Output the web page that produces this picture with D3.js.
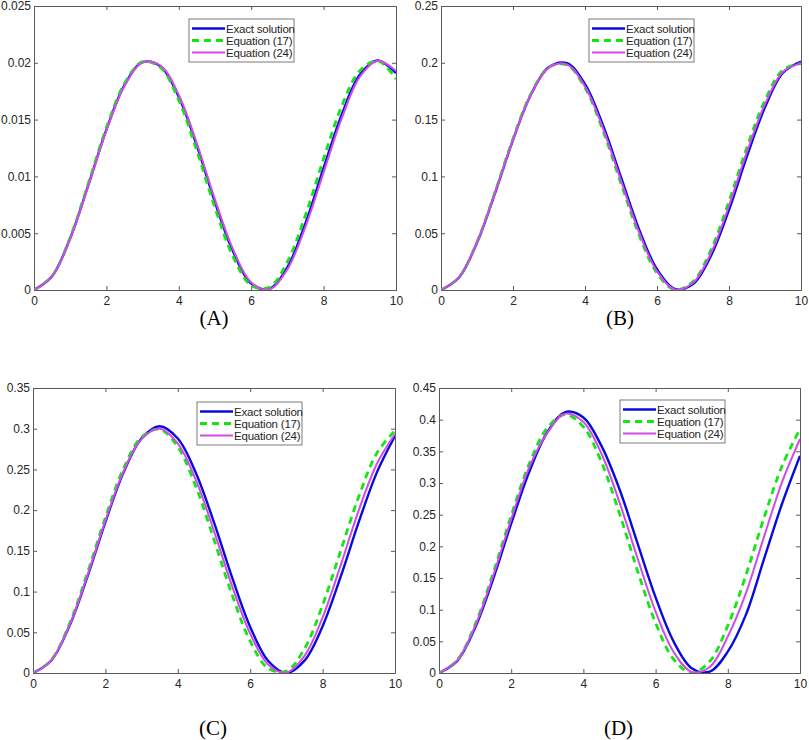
<!DOCTYPE html>
<html>
<head>
<meta charset="utf-8">
<script src="https://cdn.jsdelivr.net/npm/d3@7/dist/d3.min.js"></script>
<style>
  body { margin: 0; background: #fff; }
  svg { display: block; }
  .tick-label { font-family: "Liberation Sans", Arial, sans-serif; font-size: 12px; fill: #262626; }
  .legend-text { font-family: "Liberation Sans", Arial, sans-serif; font-size: 11.5px; fill: #262626; letter-spacing: -0.2px; }
  .panel-label { font-family: "Liberation Serif", "Times New Roman", serif; font-size: 21px; fill: #000; }
</style>
</head>
<body>
<svg id="chart" width="809" height="740"></svg>
<script>
// sample points along t, every 0.5
var xValues = [0, 0.5, 1, 1.5, 2, 2.5, 3, 3.5, 4, 4.5, 5, 5.5, 6, 6.5, 7, 7.5, 8, 8.5, 9, 9.5, 10]

var seriesNames = ['Exact solution', 'Equation (17)', 'Equation (24)']

// (A)
var exactA = [0, 0.00121, 0.00456, 0.00923, 0.01412, 0.01804, 0.02005, 0.01968, 0.01699, 0.01269, 0.00772,
              0.00338, 0.00057, 0.00010, 0.00201, 0.00589, 0.01074, 0.01544, 0.01894, 0.02020, 0.01908]
var eq17A  = [0, 0.00124, 0.00464, 0.00939, 0.01430, 0.01819, 0.02010, 0.01956, 0.01670, 0.01223, 0.00723,
              0.00294, 0.00040, 0.00024, 0.00249, 0.00660, 0.01157, 0.01618, 0.01930, 0.02017, 0.01857]
var eq24A  = [0, 0.00120, 0.00453, 0.00916, 0.01403, 0.01796, 0.02002, 0.01974, 0.01717, 0.01290, 0.00796,
              0.00357, 0.00067, 0.00006, 0.00183, 0.00558, 0.01035, 0.01510, 0.01876, 0.02018, 0.01928]

// (B)
var exactB = [0, 0.01101, 0.04164, 0.08518, 0.13206, 0.17211, 0.19628, 0.19962, 0.18121, 0.14501, 0.09924,
              0.05354, 0.01827, 0.00088, 0.00520, 0.03020, 0.07055, 0.11779, 0.16080, 0.19120, 0.20098]
var eq17B  = [0, 0.01118, 0.04224, 0.08621, 0.13327, 0.17294, 0.19623, 0.19800, 0.17804, 0.14026, 0.09374,
              0.04855, 0.01487, 0.00020, 0.00748, 0.03525, 0.07810, 0.12579, 0.16689, 0.19384, 0.19933]
var eq24B  = [0, 0.01107, 0.04183, 0.08547, 0.13233, 0.17208, 0.19578, 0.19834, 0.17910, 0.14230, 0.09624,
              0.05089, 0.01653, 0.00053, 0.00631, 0.03245, 0.07419, 0.12176, 0.16358, 0.19213, 0.19972]

// (C)
var exactC = [0, 0.01501, 0.05707, 0.11788, 0.18534, 0.24611, 0.28809, 0.30300, 0.28791, 0.24569, 0.18489,
              0.11740, 0.05662, 0.01471, 0.00000, 0.01517, 0.05746, 0.11834, 0.18551, 0.24636, 0.29100]
var eq17C  = [0, 0.01572, 0.05963, 0.12245, 0.19106, 0.25106, 0.28992, 0.29936, 0.27762, 0.22857, 0.16368,
              0.09594, 0.03903, 0.00558, 0.00234, 0.02985, 0.08337, 0.15018, 0.21684, 0.27024, 0.29760]
var eq24C  = [0, 0.01526, 0.05795, 0.11936, 0.18705, 0.24726, 0.28748, 0.29987, 0.28158, 0.23673, 0.17423,
              0.10677, 0.04835, 0.01017, 0.00057, 0.02114, 0.06833, 0.13245, 0.19997, 0.25692, 0.29346]

// (D)
var exactD = [0, 0.01866, 0.07130, 0.14838, 0.23585, 0.31769, 0.38013, 0.41198, 0.40345, 0.35854, 0.29019,
              0.20464, 0.11936, 0.04956, 0.00766, 0.00212, 0.03372, 0.09171, 0.17924, 0.26683, 0.34283]
var eq17D  = [0, 0.02009, 0.07638, 0.15782, 0.24839, 0.33018, 0.38715, 0.40800, 0.38878, 0.33299, 0.25163,
              0.16132, 0.07915, 0.02169, 0.00001, 0.01846, 0.07477, 0.15416, 0.24456, 0.32636, 0.38534]
var eq24D  = [0, 0.01943, 0.07405, 0.15350, 0.24274, 0.32476, 0.37907, 0.40953, 0.39625, 0.34620, 0.26939,
              0.18124, 0.09682, 0.03309, 0.00178, 0.00945, 0.05754, 0.12571, 0.21445, 0.30096, 0.36957]

var xTicks = [0, 2, 4, 6, 8, 10]
var yTicksA = [0, 0.005, 0.01, 0.015, 0.02, 0.025]
var yTicksB = [0, 0.05, 0.1, 0.15, 0.2, 0.25]
var yTicksC = [0, 0.05, 0.1, 0.15, 0.2, 0.25, 0.3, 0.35]
var yTicksD = [0, 0.05, 0.1, 0.15, 0.2, 0.25, 0.3, 0.35, 0.4, 0.45]

// blue solid, green dashed, magenta thin
var lineStyles = [
  {stroke: '#0a0adc', width: 2.4, dash: null}
, {stroke: '#14e614', width: 2.8, dash: '7,5'}
, {stroke: '#d24be6', width: 2, dash: null}
]

var panels = [
  {label: '(A)', box: [34, 6, 396, 290], legend: [189, 19], labelY: 325, yTicks: yTicksA, series: [exactA, eq17A, eq24A]}
, {label: '(B)', box: [441, 6, 801, 290], legend: [589, 19], labelY: 325, yTicks: yTicksB, series: [exactB, eq17B, eq24B]}
, {label: '(C)', box: [33, 388, 395, 673], legend: [197, 402], labelY: 735, yTicks: yTicksC, series: [exactC, eq17C, eq24C]}
, {label: '(D)', box: [439, 388, 800, 673], legend: [620, 400], labelY: 735, yTicks: yTicksD, series: [exactD, eq17D, eq24D]}
]

var svg = d3.select('#chart')
var AXIS_COLOR = '#5a5a5a'
,   TICK_LEN = 4

function fmt(v) {
  return v === 0 ? '0' : String(+v.toFixed(3))
}

function drawPanel(p, idx) {
  var x0 = p.box[0], y0 = p.box[1], x1 = p.box[2], y1 = p.box[3]
  var yMax = p.yTicks[p.yTicks.length - 1]
  var x = d3.scaleLinear().domain([0, 10]).range([x0, x1])
  ,   y = d3.scaleLinear().domain([0, yMax]).range([y1, y0])

  var g = svg.append('g').attr('class', 'panel')

  var clipId = 'clip' + idx
  g.append('clipPath').attr('id', clipId)
    .append('rect').attr('x', x0).attr('y', y0 - 2).attr('width', x1 - x0).attr('height', y1 - y0 + 2)

  // MATLAB style: inward ticks on all four sides
  var bottom = d3.axisBottom(x).tickValues(xTicks).tickSize(-TICK_LEN).tickPadding(6).tickFormat(d3.format('d'))
  ,   top = d3.axisTop(x).tickValues(xTicks).tickSize(-TICK_LEN).tickFormat('')
  ,   left = d3.axisLeft(y).tickValues(p.yTicks).tickSize(-TICK_LEN).tickPadding(3).tickFormat(fmt)
  ,   right = d3.axisRight(y).tickValues(p.yTicks).tickSize(-TICK_LEN).tickFormat('')

  var axes = [
    [bottom, 'translate(0,' + y1 + ')']
  , [top, 'translate(0,' + y0 + ')']
  , [left, 'translate(' + x0 + ',0)']
  , [right, 'translate(' + x1 + ',0)']
  ]
  axes.forEach(function(a) {
    var ag = g.append('g').attr('transform', a[1]).call(a[0])
    ag.select('.domain').attr('stroke', AXIS_COLOR)
    ag.selectAll('.tick line').attr('stroke', AXIS_COLOR)
    ag.selectAll('.tick text').attr('class', 'tick-label').attr('font-family', null).attr('font-size', null)
  })
  g.selectAll('.tick').filter(function(d) { return d === 0 || d === 10 }).select('line').remove()

  var line = d3.line()
    .x(function(d, i) { return x(xValues[i]) })
    .y(function(d) { return y(Math.max(0, d)) })
    .curve(d3.curveCatmullRom.alpha(0.5))

  var curves = g.append('g').attr('clip-path', 'url(#' + clipId + ')')
  curves.selectAll('path')
    .data(p.series)
    .enter()
    .append('path')
    .attr('d', line)
    .attr('fill', 'none')
    .attr('stroke', function(d, i) { return lineStyles[i].stroke })
    .attr('stroke-width', function(d, i) { return lineStyles[i].width })
    .attr('stroke-dasharray', function(d, i) { return lineStyles[i].dash })
    .attr('stroke-linejoin', 'round')

  // legend box
  var lx = p.legend[0], ly = p.legend[1]
  var lg = g.append('g').attr('transform', 'translate(' + lx + ',' + ly + ')')
  lg.append('rect')
    .attr('width', 105).attr('height', 43)
    .attr('fill', '#fff').attr('stroke', '#7a7a7a').attr('stroke-width', 1)

  var rows = lg.selectAll('.legend-row')
    .data(seriesNames)
    .enter()
    .append('g')
    .attr('class', 'legend-row')
    .attr('transform', function(d, i) { return 'translate(0,' + (9.5 + i * 12) + ')' })

  rows.append('line')
    .attr('x1', 3).attr('x2', 36)
    .attr('stroke', function(d, i) { return lineStyles[i].stroke })
    .attr('stroke-width', function(d, i) { return lineStyles[i].width })
    .attr('stroke-dasharray', function(d, i) { return lineStyles[i].dash })

  rows.append('text')
    .attr('class', 'legend-text')
    .attr('x', 37)
    .attr('dy', '0.35em')
    .text(function(d) { return d })

  svg.append('text')
    .attr('class', 'panel-label')
    .attr('x', (x0 + x1) / 2 - 1)
    .attr('y', p.labelY)
    .attr('text-anchor', 'middle')
    .text(p.label)
}

panels.forEach(drawPanel)
</script>
</body>
</html>
